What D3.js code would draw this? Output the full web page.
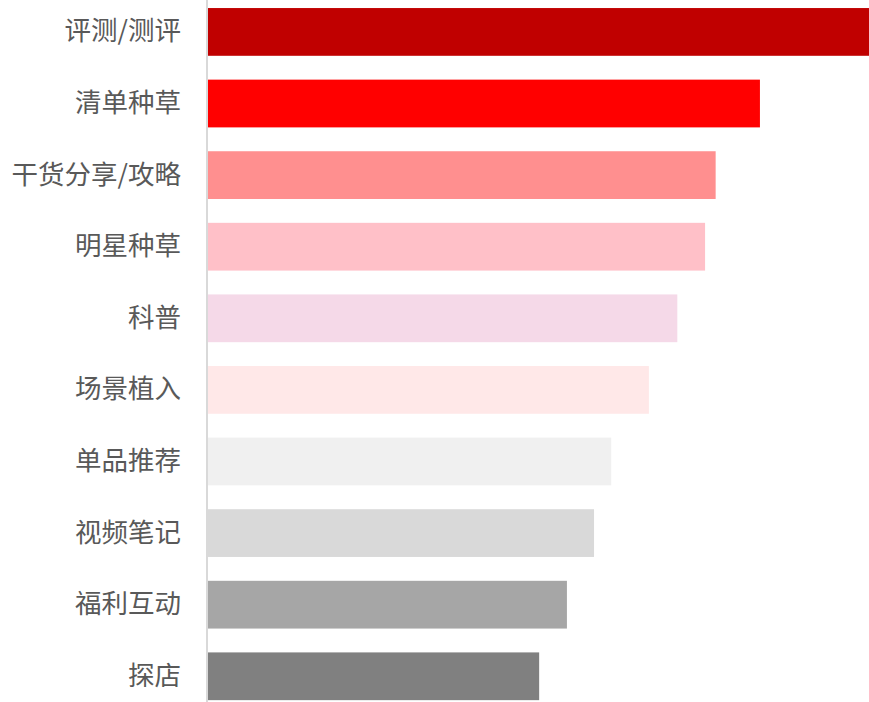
<!DOCTYPE html>
<html>
<head>
  <meta charset="utf-8">
  <script src="https://cdn.jsdelivr.net/npm/d3@7"></script>
  <style>
    body { margin: 0; background: #fff; }
    text { font-family: "Noto Sans CJK SC", "Noto Sans", sans-serif; }
  </style>
</head>
<body>
  <div id="chart"></div>
  <script>
    const categories = ["评测/测评", "清单种草", "干货分享/攻略", "明星种草", "科普",
      "场景植入", "单品推荐", "视频笔记", "福利互动", "探店"];
    const values = [100, 83.5, 76.8, 75.2, 71.0, 66.7, 61.0, 58.4, 54.3, 50.1];
    const colors = ["#C00000", "#FF0000", "#FF8F8F", "#FFC0C8", "#F5D9E8",
      "#FFE8E8", "#F0F0F0", "#D9D9D9", "#A6A6A6", "#808080"];

    const width = 869, height = 702;
    const left = 208;

    const svg = d3.select("#chart").append("svg")
      .attr("width", width)
      .attr("height", height);

    const x = d3.scaleLinear()
      .domain([0, d3.max(values)])
      .range([left, width]);

    const y = d3.scaleBand()
      .domain(categories)
      .range([-15.8, 724])
      .padding(0.333);

    const data = categories.map((c, i) => ({ name: c, value: values[i], color: colors[i] }));

    svg.selectAll("rect.bar")
      .data(data)
      .enter().append("rect")
        .attr("class", "bar")
        .attr("x", x(0))
        .attr("y", d => y(d.name))
        .attr("width", d => x(d.value) - x(0))
        .attr("height", y.bandwidth())
        .attr("fill", d => d.color);

    // axis on the left, labels only
    const axis = svg.append("g")
      .attr("transform", `translate(${left - 1},0)`)
      .call(d3.axisLeft(y).tickSize(0).tickPadding(26));
    axis.select(".domain").remove();
    axis.selectAll("text")
      .attr("fill", "#595959")
      .style("font-size", "26.5px");

    svg.append("line")
      .attr("x1", left - 1).attr("x2", left - 1)
      .attr("y1", 0).attr("y2", height)
      .attr("stroke", "#D9D9D9")
      .attr("stroke-width", 2);
  </script>
</body>
</html>
